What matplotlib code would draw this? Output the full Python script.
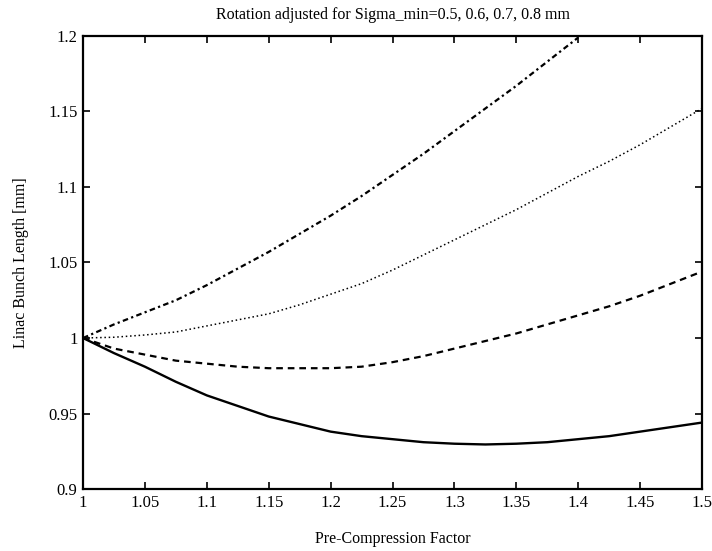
import matplotlib
matplotlib.use("Agg")
import matplotlib.pyplot as plt

# Pre-Compression Factor sample points
x = [1.0, 1.025, 1.05, 1.075, 1.1, 1.125, 1.15, 1.175, 1.2, 1.225, 1.25,
     1.275, 1.3, 1.325, 1.35, 1.375, 1.4, 1.425, 1.45, 1.475, 1.5]

# Linac bunch length [mm] for each sigma_min
sig_08 = [1.000, 0.990, 0.981, 0.971, 0.962, 0.955, 0.948, 0.943, 0.938, 0.935, 0.933,
          0.931, 0.930, 0.9295, 0.930, 0.931, 0.933, 0.935, 0.938, 0.941, 0.944]
sig_07 = [1.000, 0.993, 0.989, 0.985, 0.983, 0.981, 0.980, 0.980, 0.980, 0.981, 0.984,
          0.988, 0.993, 0.998, 1.003, 1.009, 1.015, 1.021, 1.028, 1.036, 1.044]
sig_06 = [1.000, 1.0005, 1.002, 1.004, 1.008, 1.012, 1.016, 1.022, 1.029, 1.036, 1.045,
          1.055, 1.065, 1.075, 1.085, 1.096, 1.107, 1.117, 1.128, 1.140, 1.152]
x_05 = x[:17]
sig_05 = [1.000, 1.009, 1.017, 1.025, 1.035, 1.046, 1.057, 1.069, 1.081, 1.094, 1.108,
          1.122, 1.137, 1.152, 1.167, 1.183, 1.199]

xticks = [1, 1.05, 1.1, 1.15, 1.2, 1.25, 1.3, 1.35, 1.4, 1.45, 1.5]
xtick_labels = ['1', '1.05', '1.1', '1.15', '1.2', '1.25', '1.3', '1.35', '1.4', '1.45', '1.5']
yticks = [0.9, 0.95, 1.0, 1.05, 1.1, 1.15, 1.2]
ytick_labels = ['0.9', '0.95', '1', '1.05', '1.1', '1.15', '1.2']

plt.rcParams['font.family'] = ['Liberation Serif', 'DejaVu Serif']

fig = plt.figure(figsize=(7.12, 5.51), dpi=100)
ax = fig.add_axes([0.1166, 0.1125, 0.8694, 0.8222])

ax.plot(x, sig_08, color='black', linewidth=1.7, linestyle='-')
ax.plot(x, sig_07, color='black', linewidth=1.6, linestyle=(0, (3, 2.2)))
ax.plot(x, sig_06, color='black', linewidth=1.1, linestyle=(0, (1, 1.8)))
ax.plot(x_05, sig_05, color='black', linewidth=1.6, linestyle=(0, (2.5, 1.5, 1, 1.5)))

ax.set_xlim(1, 1.5)
ax.set_ylim(0.9, 1.2)
ax.set_xticks(xticks)
ax.set_xticklabels(xtick_labels)
ax.set_yticks(yticks)
ax.set_yticklabels(ytick_labels)
ax.tick_params(direction='in', top=True, right=True, length=5, width=1.2,
               labelsize=12, pad=4)
for s in ax.spines.values():
    s.set_linewidth(1.6)

ax.set_title('Rotation adjusted for Sigma_min=0.5, 0.6, 0.7, 0.8 mm', fontsize=11.5, pad=12)
ax.set_xlabel('Pre-Compression Factor', fontsize=11.5, labelpad=15)
ax.set_ylabel('Linac Bunch Length [mm]', fontsize=11.5, labelpad=14)

fig.savefig('out.png', dpi=100)
